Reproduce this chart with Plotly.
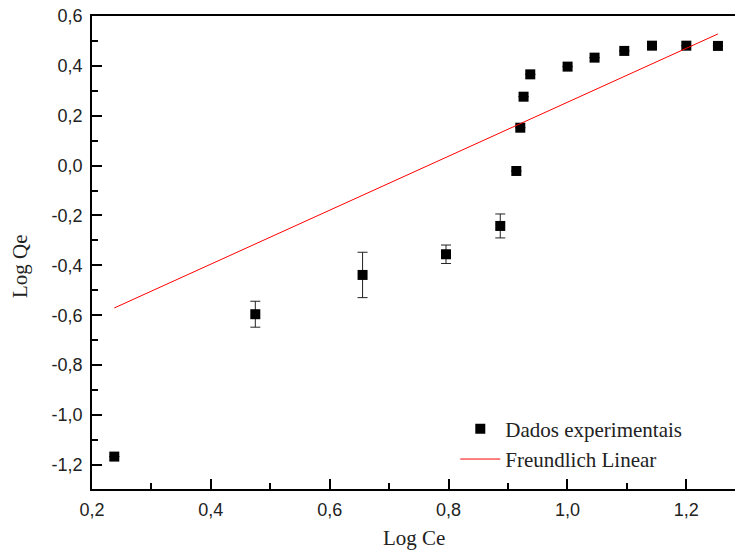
import plotly.graph_objects as go

# Experimental points (log scale)
log_ce = [0.2375, 0.4748, 0.6553, 0.7957, 0.8870, 0.9140, 0.9207, 0.9262,
          0.9375, 1.0003, 1.0457, 1.0957, 1.1423, 1.2001, 1.2533]
log_qe = [-1.167, -0.596, -0.4385, -0.3555, -0.242, -0.0215, 0.152, 0.2764,
          0.366, 0.397, 0.433, 0.460, 0.481, 0.481, 0.480]
log_qe_err = [0.0, 0.052, 0.091, 0.037, 0.048, 0.0, 0.0, 0.0,
              0.0, 0.0, 0.0, 0.0, 0.0, 0.0, 0.0]

# Freundlich linear fit: log Qe = log KF + (1/n) log Ce
slope_1_n = 1.082
intercept_log_kf = -0.828

x_tick_vals = [0.2, 0.4, 0.6, 0.8, 1.0, 1.2]
x_tick_text = ["0,2", "0,4", "0,6", "0,8", "1,0", "1,2"]
y_tick_vals = [-1.2, -1.0, -0.8, -0.6, -0.4, -0.2, 0.0, 0.2, 0.4, 0.6]
y_tick_text = ["-1,2", "-1,0", "-0,8", "-0,6", "-0,4", "-0,2", "0,0", "0,2", "0,4", "0,6"]

fit_x = [min(log_ce), max(log_ce)]
fit_y = [intercept_log_kf + slope_1_n * v for v in fit_x]

serif = "Liberation Serif, Times New Roman"

fig = go.Figure()
fig.add_trace(go.Scatter(
    x=log_ce, y=log_qe, mode="markers", name="Dados experimentais",
    marker=dict(symbol="square", size=10, color="black"),
    error_y=dict(type="data", array=log_qe_err, color="#222", thickness=1, width=5),
))
fig.add_trace(go.Scatter(
    x=fit_x, y=fit_y, mode="lines", name="Freundlich Linear",
    line=dict(color="red", width=1),
))

tick_font = dict(family="Liberation Sans, Arial", size=18, color="#222")
axis_common = dict(
    showgrid=False, zeroline=False, showline=True, linecolor="black", linewidth=1.6,
    ticks="inside", ticklen=10, tickwidth=1.5, tickcolor="black",
    tickfont=tick_font,
    minor=dict(ticks="inside", ticklen=6, tickwidth=1.5, tickcolor="black", dtick=0.1),
)

fig.update_layout(
    width=735, height=558,
    margin=dict(l=92, r=0, t=16, b=69),
    paper_bgcolor="white", plot_bgcolor="white",
    showlegend=True,
    legend=dict(
        x=0.565, y=0.17, xanchor="left", yanchor="top",
        bgcolor="rgba(0,0,0,0)",
        font=dict(family=serif, size=21, color="#222"),
        tracegroupgap=0, itemwidth=40,
    ),
    xaxis=dict(
        range=[0.2, 1.282], tickvals=x_tick_vals, ticktext=x_tick_text,
        mirror=True, ticklabelstandoff=4,
        **axis_common,
    ),
    yaxis=dict(
        range=[-1.297, 0.6], tickvals=y_tick_vals, ticktext=y_tick_text,
        ticklabelstandoff=4,
        **axis_common,
    ),
    annotations=[
        dict(text="Log Ce", xref="paper", yref="paper", x=0.5, y=-0.104,
             xanchor="center", yanchor="middle", showarrow=False,
             font=dict(family=serif, size=21, color="#222")),
        dict(text="Log Qe", xref="paper", yref="paper", x=-0.112, y=0.4715,
             xanchor="center", yanchor="middle", textangle=-90, showarrow=False,
             font=dict(family=serif, size=21, color="#222")),
    ],
)

fig.write_html("out.html")
